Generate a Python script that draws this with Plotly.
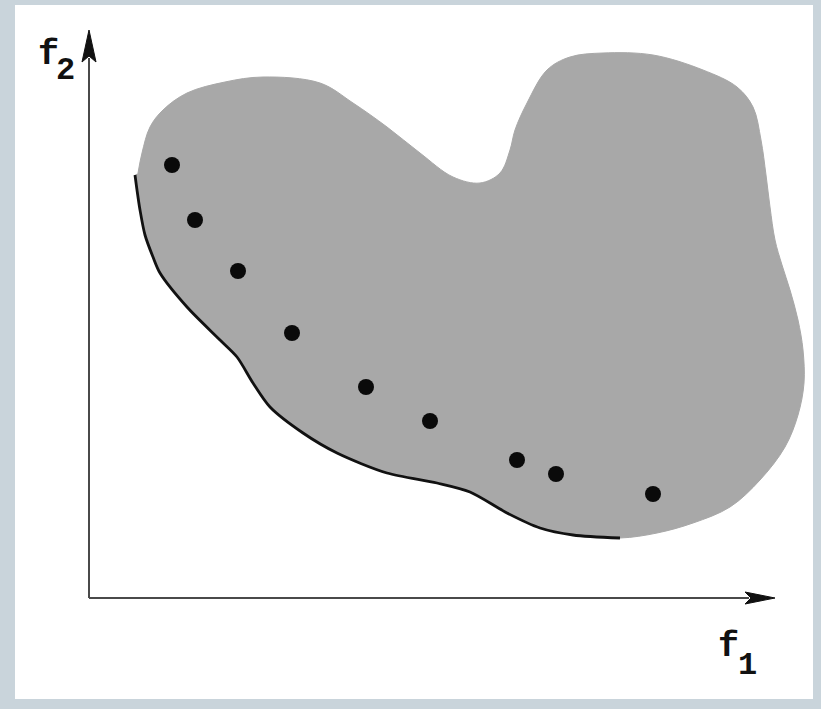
import plotly.graph_objects as go

# ---- data (objective space units) ----
# outline of the feasible region (upper boundary, clockwise from upper-left)
region_f1 = [49, 53, 61, 74, 98, 136, 174, 231, 264, 298, 331, 364, 391, 411, 421, 426,
             438, 458, 481, 514, 564, 614, 648, 664, 672, 677, 681, 686, 693, 701, 709,
             714, 715, 709, 696, 671, 641, 604, 568]
region_f2 = [425, 445, 471, 488, 505, 516, 521, 515, 495, 471, 445, 421, 415, 425, 448, 468,
             495, 528, 541, 545, 543, 528, 511, 491, 458, 423, 391, 358, 333, 308, 278,
             248, 215, 183, 151, 118, 91, 75, 65]

# Pareto front (lower-left boundary)
front_f1 = [46, 48, 51, 56, 64, 71, 98, 131, 148, 164, 181, 214, 248, 298, 348, 381, 418,
            451, 484, 531]
front_f2 = [423, 408, 388, 363, 341, 325, 291, 258, 241, 215, 191, 165, 145, 125, 115, 106,
            85, 70, 63, 60]

# solutions
points_f1 = [83, 106, 149, 203, 277, 341, 428, 467, 564]
points_f2 = [433, 378, 327, 265, 211, 177, 138, 124, 104]

F1_MAX = 686
F2_MAX = 568

blob_x = region_f1 + front_f1[::-1]
blob_y = region_f2 + front_f2[::-1]

fig = go.Figure()

fig.add_trace(go.Scatter(
    x=blob_x, y=blob_y, mode="lines", fill="toself",
    fillcolor="#a8a8a8", line=dict(color="#a8a8a8", width=1, shape="spline", smoothing=1.0),
    hoverinfo="skip"))

fig.add_trace(go.Scatter(
    x=front_f1, y=front_f2, mode="lines",
    line=dict(color="#111111", width=2.8, shape="spline", smoothing=0.8),
    hoverinfo="skip"))

fig.add_trace(go.Scatter(
    x=points_f1, y=points_f2, mode="markers",
    marker=dict(size=16, color="#0a0a0a", line=dict(width=0)),
    hoverinfo="skip"))

# axes
axis_col = "#4a4a4a"
fig.add_trace(go.Scatter(x=[0, 0], y=[0, F2_MAX - 28], mode="lines",
                         line=dict(color=axis_col, width=2), hoverinfo="skip"))
fig.add_trace(go.Scatter(x=[0, F1_MAX - 26], y=[0, 0], mode="lines",
                         line=dict(color=axis_col, width=2), hoverinfo="skip"))

# arrowheads
hl, hw, nd = 32, 7, 6
fig.add_trace(go.Scatter(
    x=[0, -hw, 0, hw, 0], y=[F2_MAX, F2_MAX - hl, F2_MAX - hl + nd, F2_MAX - hl, F2_MAX],
    mode="lines", fill="toself", fillcolor="#111111", line=dict(color="#111111", width=1),
    hoverinfo="skip"))
hl2, hw2, nd2 = 30, 6, 6
fig.add_trace(go.Scatter(
    x=[F1_MAX, F1_MAX - hl2, F1_MAX - hl2 + nd2, F1_MAX - hl2, F1_MAX],
    y=[0, hw2, 0, -hw2, 0],
    mode="lines", fill="toself", fillcolor="#111111", line=dict(color="#111111", width=1),
    hoverinfo="skip"))

lab_font = dict(family="Liberation Mono, Courier New, monospace", color="#111111")
ann = [
    dict(text="<b>f</b>", x=-41, y=543, size=35),
    dict(text="<b>2</b>", x=-24, y=528, size=32),
    dict(text="<b>f</b>", x=639, y=-48.5, size=35),
    dict(text="<b>1</b>", x=658.5, y=-67, size=32),
]
for a in ann:
    fig.add_annotation(x=a["x"], y=a["y"], xref="x", yref="y", text=a["text"],
                       showarrow=False, xanchor="center", yanchor="middle",
                       font=dict(size=a["size"], **lab_font))

fig.update_layout(
    width=821, height=709,
    margin=dict(l=15, r=8, t=5, b=10),
    paper_bgcolor="#c9d4db", plot_bgcolor="#ffffff",
    showlegend=False, hovermode=False,
    xaxis=dict(range=[-74, 724], visible=False, fixedrange=True),
    yaxis=dict(range=[-101, 593], visible=False, fixedrange=True),
)

fig.write_html(
    "out.html",
    config={"displayModeBar": False},
    post_script="document.body.style.margin='0';document.body.style.overflow='hidden';"
                "document.body.style.background='#c9d4db';",
)
